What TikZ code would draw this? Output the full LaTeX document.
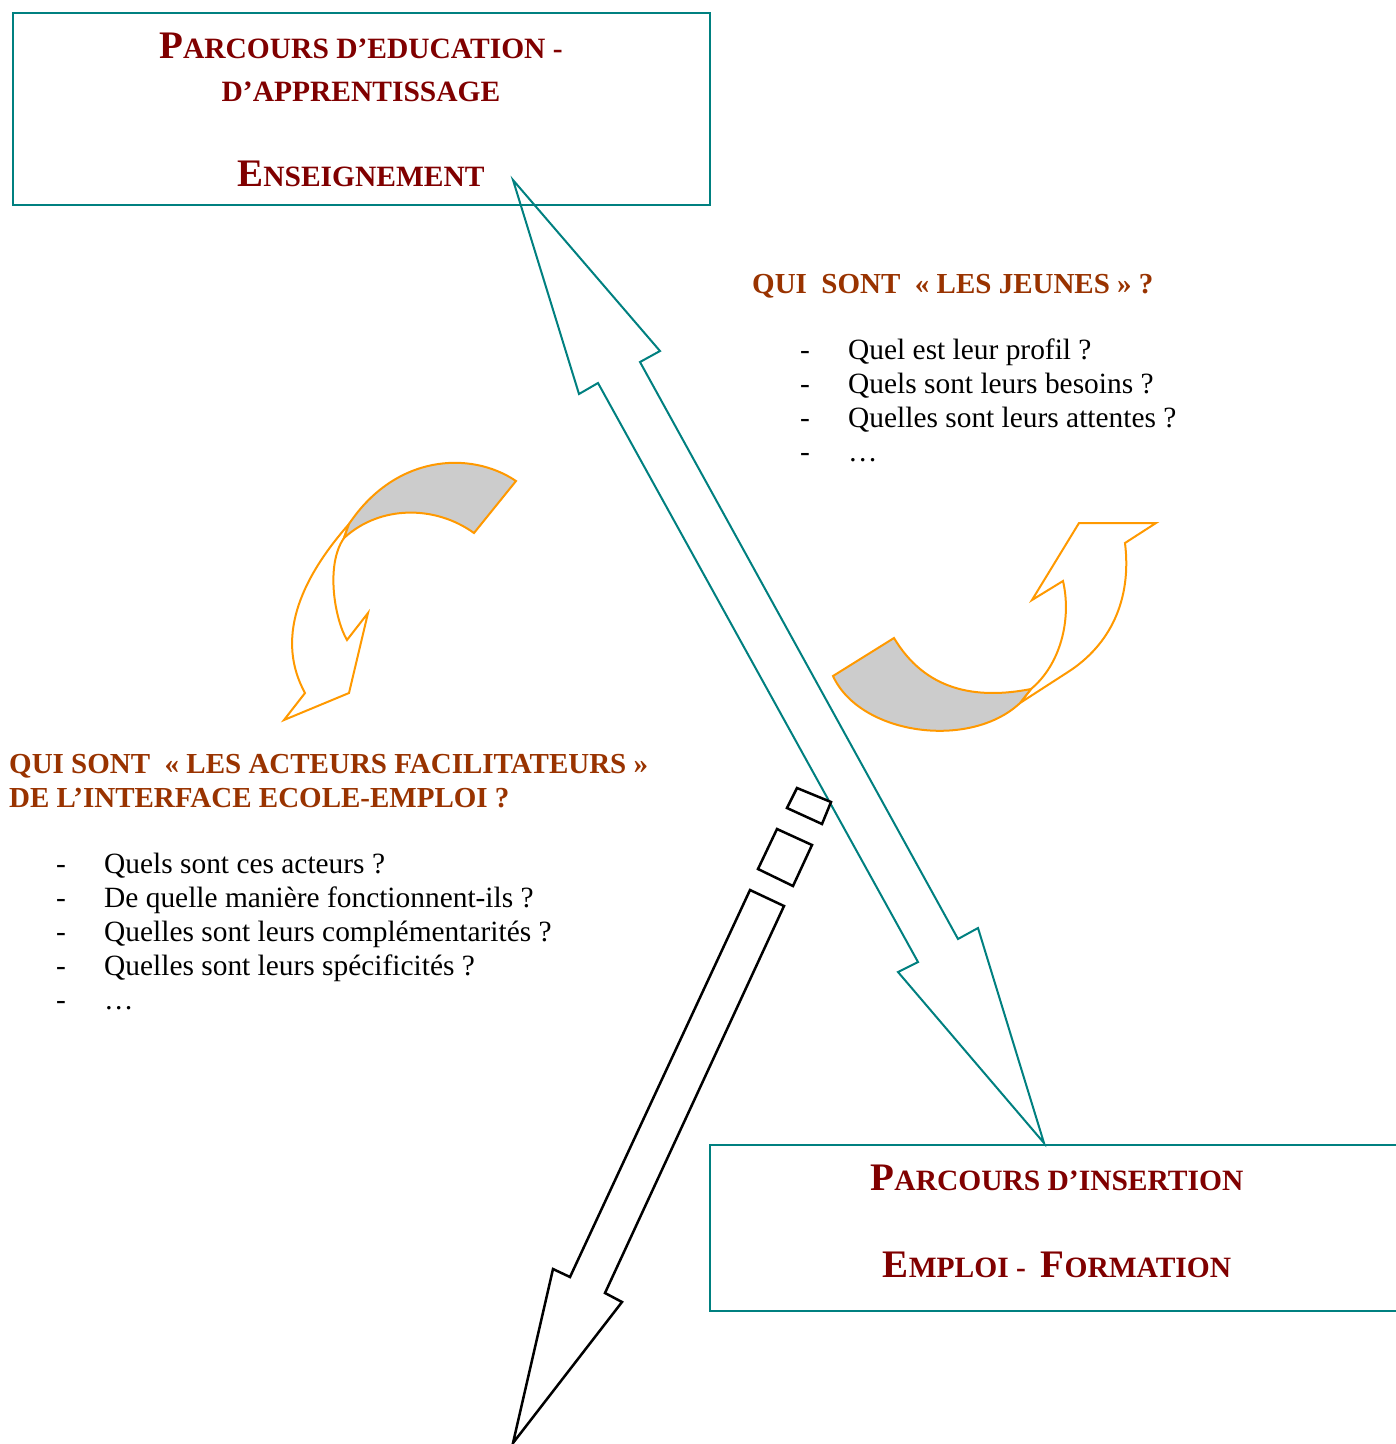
\documentclass[tikz,border=0pt]{standalone}
\usepackage{fontspec}
\setmainfont{Liberation Serif}
\definecolor{tealc}{HTML}{008080}
\definecolor{maroonc}{HTML}{800000}
\definecolor{rustc}{HTML}{993300}
\definecolor{orangec}{HTML}{FF9900}
\definecolor{grayc}{HTML}{CCCCCC}
\newcommand\BigLetter[1]{{\fontsize{39}{45}\selectfont #1}}
\begin{document}
\begin{tikzpicture}[x=1pt,y=-1pt,
  boxframe/.style={draw=tealc, line width=2pt, inner sep=0pt, anchor=north west},
  titletxt/.style={text=maroonc, font=\fontsize{29.5}{34}\selectfont\bfseries, anchor=base, inner sep=0pt},
  headtxt/.style={text=rustc, font=\fontsize{29}{34}\selectfont\bfseries, anchor=base west, inner sep=0pt},
  bodytxt/.style={font=\fontsize{29.4}{34}\selectfont, anchor=base west, inner sep=0pt},
  tealarrow/.style={draw=tealc, line width=2pt, line join=miter},
  blackarrow/.style={draw=black, line width=2.5pt, fill=white, line join=miter},
  curvedfront/.style={draw=orangec, line width=2pt, fill=grayc, line join=miter},
  curvedback/.style={draw=orangec, line width=2pt, fill=white, line join=miter},
]
\useasboundingbox (0,0) rectangle (1396,1444);
\fill[white] (0,0) rectangle (1396,1444);

% boxes
\node[boxframe, minimum width=697pt, minimum height=192pt] (box1) at (12,12) {};
\node[boxframe, minimum width=700pt, minimum height=166pt] (box2) at (709,1144) {};

% box texts
\node[titletxt] (t1a) at (361,58) {\BigLetter{P}ARCOURS D’EDUCATION -};
\node[titletxt] (t1b) at (361,101) {D’APPRENTISSAGE};
\node[titletxt] (t1c) at (361,186) {\BigLetter{E}NSEIGNEMENT};
\node[titletxt] (t2a) at (1057,1190) {\BigLetter{P}ARCOURS D’INSERTION};
\node[titletxt] (t2b) at (1057,1277) {\BigLetter{E}MPLOI -\ \ \BigLetter{F}ORMATION};

% teal double arrow between the boxes
\coordinate (tipA) at (513,180);
\coordinate (tipB) at (1044,1143);
\draw[tealarrow] (tipA) -- (660,351) -- (640,362) -- (958,939) -- (978,928)
  -- (tipB) -- (898,972) -- (918,962) -- (598,383) -- (579,394) -- cycle;

% broken black arrow
\draw[blackarrow] (797,788) -- (831,802) -- (822,824) -- (787,808) -- cycle;
\draw[blackarrow] (777,829) -- (812,845) -- (793,886) -- (758,869) -- cycle;
\coordinate (tipC) at (513,1443);
\draw[blackarrow] (750,890) -- (570,1277) -- (553,1269) -- (tipC) -- (622,1302)
  -- (605,1293) -- (784,906) -- cycle;

% left curved arrow
\draw[curvedback] (349,524) .. controls (298,582) and (276,640) .. (305,693)
  -- (284,720) -- (349,693) -- (368,613) -- (347,640)
  .. controls (335,620) and (325,565) .. (344,538) -- cycle;
\draw[curvedfront] (516,481) .. controls (470,450) and (395,455) .. (349,524)
  -- (344,538) .. controls (380,505) and (435,505) .. (474,533) -- cycle;

% right curved arrow
\draw[curvedback] (1020,703) -- (1068,672) .. controls (1110,645) and (1132,600) .. (1125,543)
  -- (1156,523) -- (1079,523) -- (1032,600) -- (1063,581)
  .. controls (1072,620) and (1060,665) .. (1031,689) -- cycle;
\draw[curvedfront] (833,676) .. controls (860,735) and (970,750) .. (1020,703)
  -- (1031,689) .. controls (975,700) and (925,690) .. (894,638) -- cycle;

% right text block
\node[headtxt] (h1) at (752,293) {QUI\ \ SONT\ \ «~LES JEUNES~»~?};
\node[bodytxt] (d1) at (800,359) {-};
\node[bodytxt] (q1) at (848,359) {Quel est leur profil ?};
\node[bodytxt] (d2) at (800,393) {-};
\node[bodytxt] (q2) at (848,393) {Quels sont leurs besoins ?};
\node[bodytxt] (d3) at (800,427) {-};
\node[bodytxt] (q3) at (848,427) {Quelles sont leurs attentes ?};
\node[bodytxt] (d4) at (800,461) {-};
\node[bodytxt] (q4) at (848,461) {…};

% left text block
\node[headtxt] (h2) at (9,773) {QUI SONT\ \ «~LES ACTEURS FACILITATEURS~»};
\node[headtxt] (h3) at (9,807) {DE L’INTERFACE ECOLE-EMPLOI ?};
\node[bodytxt] (e1) at (56,873) {-};
\node[bodytxt] (p1) at (104,873) {Quels sont ces acteurs ?};
\node[bodytxt] (e2) at (56,907) {-};
\node[bodytxt] (p2) at (104,907) {De quelle manière fonctionnent-ils ?};
\node[bodytxt] (e3) at (56,941) {-};
\node[bodytxt] (p3) at (104,941) {Quelles sont leurs complémentarités ?};
\node[bodytxt] (e4) at (56,975) {-};
\node[bodytxt] (p4) at (104,975) {Quelles sont leurs spécificités ?};
\node[bodytxt] (e5) at (56,1009) {-};
\node[bodytxt] (p5) at (104,1009) {…};
\end{tikzpicture}
\end{document}
